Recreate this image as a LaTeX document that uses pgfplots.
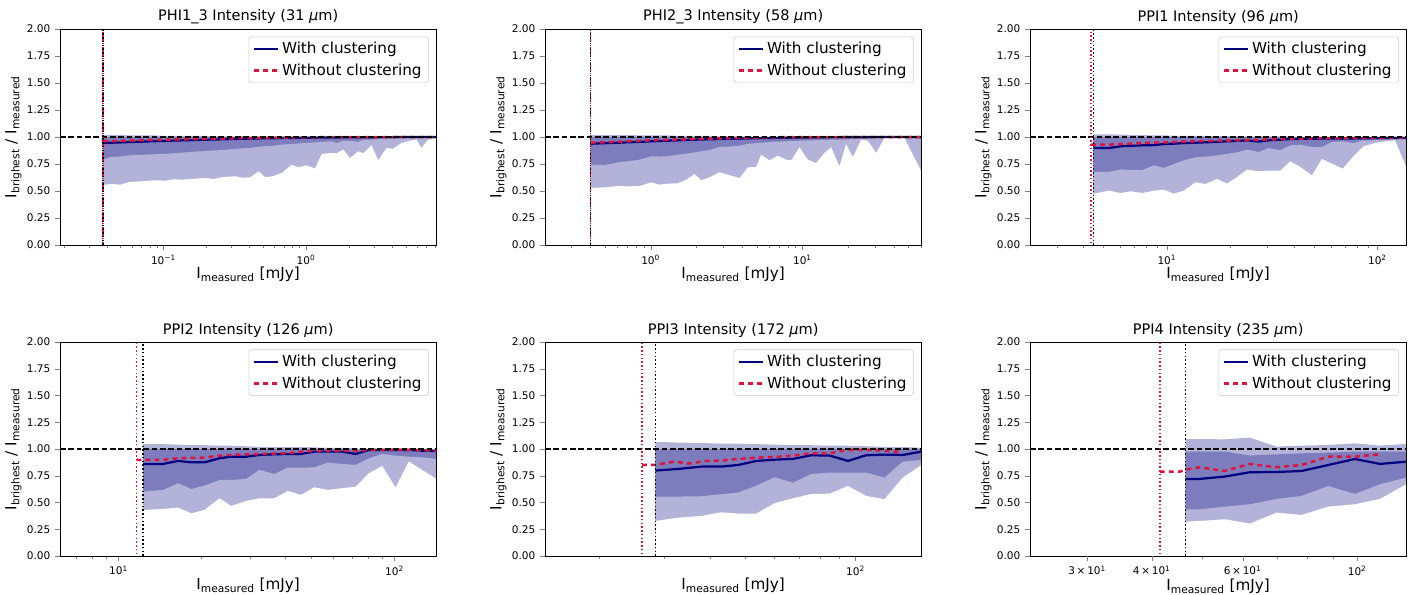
\documentclass[border=0pt]{standalone}
\usepackage{fontspec}
\setmainfont{DejaVu Sans}
\usepackage{pgfplots}
\usepackage{pgfplotstable}
\pgfplotsset{compat=1.18}
\definecolor{navy}{RGB}{0,0,128}
\definecolor{crim}{RGB}{220,20,60}
\definecolor{legedge}{RGB}{204,204,204}
\definecolor{bandlight}{RGB}{179,179,217}
\definecolor{banddark}{RGB}{125,125,190}

% ---------------- data ----------------
\pgfplotstableread{
x lo2 lo1 med hi1 hi2 nc
0.0376 0.556 0.790 0.945 1.0 1.020 0.960
0.0426 0.565 0.815 0.947 1.0 1.020 0.962
0.0500 0.559 0.820 0.950 1.0 1.020 0.964
0.0572 0.583 0.830 0.953 1.0 1.015 0.966
0.0709 0.590 0.835 0.957 1.0 1.015 0.969
0.0856 0.599 0.840 0.961 1.0 1.015 0.972
0.1033 0.596 0.845 0.964 1.0 1.010 0.975
0.1181 0.608 0.850 0.967 1.0 1.010 0.977
0.1351 0.605 0.855 0.969 1.0 1.010 0.979
0.1674 0.614 0.865 0.972 1.0 1.010 0.980
0.1967 0.620 0.870 0.975 1.0 1.010 0.982
0.2249 0.611 0.875 0.977 1.0 1.005 0.984
0.2641 0.630 0.880 0.979 1.0 1.005 0.986
0.3188 0.636 0.890 0.982 1.0 1.005 0.988
0.3549 0.623 0.895 0.984 1.0 1.005 0.989
0.4059 0.627 0.900 0.985 1.0 1.005 0.990
0.4642 0.682 0.910 0.987 1.0 1.005 0.991
0.5168 0.627 0.915 0.988 1.0 1.000 0.992
0.5909 0.639 0.920 0.989 1.0 1.000 0.993
0.6760 0.667 0.930 0.990 1.0 1.000 0.994
0.7940 0.744 0.935 0.991 1.0 1.000 0.995
0.8839 0.719 0.940 0.992 1.0 1.000 0.996
1.011 0.738 0.945 0.993 1.0 1.000 0.997
1.156 0.707 0.950 0.994 1.0 1.000 0.997
1.287 0.843 0.955 0.995 1.0 1.000 0.998
1.511 0.852 0.960 0.996 1.0 1.000 0.998
1.639 0.849 0.945 0.996 1.0 1.000 0.998
1.824 0.883 0.965 0.997 1.0 1.000 0.999
2.031 0.806 0.965 0.997 1.0 1.000 0.999
2.323 0.867 0.955 0.998 1.0 1.000 0.999
2.518 0.849 0.975 0.998 1.0 1.000 1.000
2.879 0.923 0.975 0.998 1.0 1.000 1.000
3.205 0.784 0.980 0.999 1.0 1.000 1.000
3.666 0.898 0.985 0.999 1.0 1.000 1.000
4.080 0.892 0.985 0.999 1.0 1.000 1.000
4.667 0.944 0.990 1.000 1.0 1.000 1.000
5.338 0.966 0.990 1.000 1.0 1.000 1.000
5.941 0.975 0.990 1.000 1.0 1.000 1.000
6.441 0.898 0.995 1.000 1.0 1.000 1.000
7.171 0.975 0.995 1.000 1.0 1.000 1.000
8.201 0.991 0.995 1.000 1.0 1.000 1.000
}\tA

\pgfplotstableread{
x lo2 lo1 med hi1 hi2 nc
0.4030 0.528 0.744 0.938 1.0 1.020 0.947
0.4982 0.534 0.740 0.943 1.0 1.020 0.951
0.6097 0.546 0.765 0.947 1.0 1.020 0.956
0.7094 0.543 0.776 0.951 1.0 1.020 0.960
0.8464 0.546 0.790 0.955 1.0 1.015 0.964
1.010 0.580 0.821 0.960 1.0 1.015 0.969
1.146 0.559 0.819 0.963 1.0 1.015 0.971
1.300 0.568 0.822 0.966 1.0 1.015 0.973
1.512 0.571 0.836 0.969 1.0 1.010 0.976
1.674 0.596 0.844 0.972 1.0 1.010 0.978
1.948 0.657 0.857 0.975 1.0 1.010 0.981
2.154 0.599 0.868 0.977 1.0 1.010 0.983
2.445 0.627 0.880 0.979 1.0 1.010 0.985
2.844 0.673 0.907 0.981 1.0 1.005 0.988
3.228 0.651 0.911 0.983 1.0 1.005 0.989
3.851 0.620 0.920 0.985 1.0 1.005 0.991
4.369 0.719 0.937 0.987 1.0 1.005 0.993
4.958 0.722 0.943 0.989 1.0 1.000 0.995
5.347 0.836 0.946 0.990 1.0 1.000 0.996
6.066 0.784 0.953 0.991 1.0 1.000 0.997
6.883 0.827 0.957 0.992 1.0 1.000 0.998
7.809 0.790 0.960 0.993 1.0 1.000 0.999
8.424 0.784 0.962 0.994 1.0 1.000 1.000
9.557 0.904 0.966 0.995 1.0 1.000 1.000
10.84 0.790 0.968 0.996 1.0 1.000 1.000
12.30 0.759 0.970 0.997 1.0 1.000 1.000
13.96 0.852 0.973 0.998 1.0 1.000 1.000
15.44 0.904 0.975 0.999 1.0 1.000 1.000
17.51 0.728 0.976 0.999 1.0 1.000 1.000
19.38 0.935 0.978 1.000 1.0 1.000 1.000
21.44 0.812 0.980 1.000 1.0 1.000 1.000
24.32 0.975 0.983 1.000 1.0 1.000 1.000
26.90 0.966 0.985 1.000 1.0 1.000 1.000
30.52 0.852 0.988 1.000 1.0 1.000 1.000
34.63 0.990 0.995 1.000 1.0 1.000 1.000
40.27 0.990 0.995 1.000 1.0 1.000 1.000
46.90 0.990 0.995 1.000 1.0 1.000 1.000
60.67 0.682 0.990 1.000 1.0 1.000 1.000
}\tB

\pgfplotstableread{
x lo2 lo1 med hi1 hi2
4.476 0.475 0.676 0.898 1.0 1.025
5.311 0.503 0.676 0.898 1.0 1.025
6.031 0.481 0.700 0.914 1.0 1.022
6.727 0.497 0.695 0.918 1.0 1.020
7.641 0.481 0.694 0.923 1.0 1.018
8.678 0.503 0.738 0.925 1.0 1.015
9.676 0.512 0.713 0.935 1.0 1.015
10.79 0.475 0.750 0.938 1.0 1.012
12.04 0.503 0.784 0.944 1.0 1.010
13.67 0.580 0.812 0.947 1.0 1.010
15.25 0.565 0.818 0.951 1.0 1.010
17.32 0.611 0.830 0.955 1.0 1.008
19.32 0.568 0.843 0.960 1.0 1.008
21.54 0.630 0.858 0.964 1.0 1.005
24.03 0.698 0.883 0.969 1.0 1.005
27.29 0.682 0.861 0.958 1.0 1.005
30.44 0.688 0.898 0.969 1.0 1.005
34.57 0.688 0.877 0.975 1.0 1.005
38.56 0.775 0.923 0.981 1.0 1.005
43.00 0.722 0.929 0.983 1.0 1.000
48.84 0.645 0.907 0.984 1.0 1.000
54.47 0.796 0.907 0.985 1.0 1.000
60.75 0.753 0.954 0.985 1.0 1.000
68.50 0.707 0.960 0.986 1.0 1.000
76.94 0.821 0.944 0.987 1.0 1.000
85.82 0.914 0.969 0.988 1.0 1.000
97.47 0.944 0.970 0.990 1.0 1.000
108.7 0.960 0.975 0.990 1.0 1.000
121.2 0.969 0.978 0.990 1.0 1.000
137.2 0.719 0.981 0.990 1.0 1.000
}\tC
\pgfplotstableread{
x nc
4.364 0.929
5.311 0.929
6.031 0.935
6.727 0.938
7.641 0.944
8.678 0.946
9.676 0.950
10.79 0.953
12.04 0.958
13.67 0.960
15.25 0.962
17.32 0.965
19.32 0.967
21.54 0.969
24.03 0.971
27.29 0.974
30.44 0.977
34.57 0.980
38.56 0.982
43.00 0.985
48.84 0.987
54.47 0.990
60.75 0.990
68.50 0.990
76.94 0.992
85.82 0.993
97.47 0.993
108.7 0.993
121.2 0.995
137.2 0.995
}\nC

\pgfplotstableread{
x lo2 lo1 med hi1 hi2
12.27 0.430 0.601 0.860 1.0 1.047
14.50 0.439 0.617 0.860 1.0 1.045
16.42 0.452 0.679 0.888 1.0 1.040
18.34 0.399 0.626 0.875 1.0 1.035
20.50 0.430 0.657 0.875 1.0 1.035
23.22 0.539 0.710 0.913 1.0 1.030
25.59 0.467 0.710 0.928 1.0 1.030
28.98 0.514 0.720 0.928 1.0 1.025
32.37 0.539 0.804 0.944 1.0 1.020
36.67 0.539 0.766 0.950 1.0 1.020
40.98 0.607 0.825 0.953 1.0 1.020
45.78 0.570 0.825 0.953 1.0 1.020
51.15 0.642 0.828 0.975 1.0 1.015
57.14 0.617 0.872 0.975 1.0 1.010
64.72 0.633 0.860 0.975 1.0 1.010
72.32 0.648 0.850 0.953 0.995 1.005
80.79 0.773 0.913 0.991 0.995 1.000
90.26 0.841 0.953 0.991 0.995 1.000
100.8 0.639 0.937 0.991 0.995 1.000
112.6 0.882 0.928 0.991 0.995 1.000
125.9 0.804 0.922 0.984 0.990 1.000
141.8 0.720 0.907 0.981 0.990 1.000
}\tD
\pgfplotstableread{
x nc
11.61 0.897
12.27 0.897
14.50 0.897
16.42 0.913
18.34 0.916
20.50 0.919
23.22 0.937
25.59 0.944
28.98 0.950
32.37 0.953
36.67 0.956
40.98 0.959
45.78 0.975
51.15 0.981
57.14 0.981
64.72 0.981
72.32 0.984
80.79 0.991
90.26 0.991
100.8 0.991
112.6 0.991
125.9 0.988
141.8 0.985
}\nD

\pgfplotstableread{
x lo2 lo1 med hi1 hi2
28.45 0.327 0.555 0.798 0.995 1.066
32.81 0.358 0.555 0.813 0.995 1.060
37.97 0.374 0.558 0.835 0.995 1.055
43.05 0.408 0.577 0.835 1.0 1.050
47.81 0.396 0.592 0.850 1.0 1.050
53.62 0.396 0.657 0.888 1.0 1.045
60.15 0.493 0.735 0.900 1.0 1.040
67.49 0.539 0.685 0.907 1.0 1.035
75.72 0.579 0.766 0.941 1.0 1.035
84.97 0.582 0.779 0.938 1.0 1.030
95.30 0.654 0.779 0.888 1.0 1.030
106.9 0.561 0.779 0.941 1.0 1.025
119.9 0.530 0.732 0.947 1.0 1.020
134.5 0.732 0.882 0.944 1.0 1.020
151.2 0.850 0.897 0.975 1.0 1.010
}\tE
\pgfplotstableread{
x nc
26.17 0.851
28.45 0.851
32.13 0.882
34.93 0.863
39.19 0.888
43.05 0.891
47.81 0.907
54.19 0.919
60.15 0.925
67.49 0.938
75.72 0.959
84.97 0.959
91.41 0.981
98.33 0.991
108.0 0.991
119.9 0.984
134.5 0.969
}\nE

\pgfplotstableread{
x lo2 lo1 med hi1 hi2
46.49 0.321 0.436 0.720 0.975 1.093
49.56 0.327 0.436 0.720 0.975 1.092
55.41 0.343 0.461 0.742 0.975 1.090
61.94 0.302 0.483 0.782 0.938 1.106
69.80 0.405 0.533 0.785 0.950 1.022
78.03 0.383 0.561 0.794 0.959 1.031
87.86 0.461 0.654 0.850 0.965 1.037
98.97 0.483 0.579 0.906 0.975 1.053
110.7 0.533 0.670 0.860 0.975 1.031
124.5 0.670 0.732 0.881 0.975 1.047
}\tF
\pgfplotstableread{
x nc
41.47 0.788
45.33 0.788
46.49 0.806
49.56 0.829
55.41 0.794
61.94 0.860
69.80 0.829
78.03 0.850
87.86 0.928
98.97 0.928
110.7 0.950
}\nF

\newcommand{\bands}[1]{%
  \addplot[fill=bandlight, draw=none, forget plot] table[x=x,y=hi2]{#1} \closedcycle;
  \addplot[fill=banddark, draw=none, forget plot] table[x=x,y=hi1]{#1} \closedcycle;
  \addplot[fill=bandlight, draw=none, forget plot] table[x=x,y=lo1]{#1} \closedcycle;
  \addplot[fill=white, draw=none, forget plot] table[x=x,y=lo2]{#1} \closedcycle;
}
\newcommand{\reflines}[4]{% xmin xmax xblack xred
  \addplot[forget plot, black, line width=1.1bp, dash pattern=on 4bp off 2bp] coordinates {(#1,1) (#2,1)};
  \addplot[forget plot, crim, line width=1.1bp, dash pattern=on 1.1bp off 1.6bp, dash phase=1.35bp] coordinates {(#4,0) (#4,2)};
  \addplot[forget plot, black, line width=1.1bp, dash pattern=on 1.1bp off 1.6bp] coordinates {(#3,0) (#3,2)};
}

\begin{document}
\begin{tikzpicture}
\path[use as bounding box] (0,0) rectangle (1021.7bp,428.4bp);

% ---- panel 1
\begin{axis}[xmode=log, scale only axis, width=271bp, height=155.5bp,
  at={(43.2bp,252bp)}, anchor=south west,
  ymin=0, ymax=2, ytick={0,0.25,0.5,0.75,1,1.25,1.5,1.75,2},
  yticklabel style={/pgf/number format/fixed, /pgf/number format/fixed zerofill, /pgf/number format/precision=2, /pgf/number format/assume math mode=true},
  tick label style={font=\fontsize{7.6}{9}\selectfont},
  label style={font=\fontsize{11}{13}\selectfont},
  title style={font=\fontsize{10.5}{12}\selectfont, yshift=-6bp},
  xlabel={I\textsubscript{measured} [mJy]},
  ylabel={I\textsubscript{brighest} / I\textsubscript{measured}},
  xlabel shift=-5bp, ylabel shift=-3bp,
  tick align=outside, tick pos=left, major tick length=3.5bp, minor tick length=2bp,
  axis on top, axis line style={line width=0.6bp},
  legend style={at={(0.98,0.965)}, anchor=north east, draw=legedge, rounded corners=2bp, fill=white, font=\fontsize{11}{13}\selectfont, inner xsep=3bp, inner ysep=2bp, row sep=1.5bp, cells={anchor=west}},
  xmin=0.0188, xmax=8.201,
  title={PHI1\_3 Intensity (31 \textit{μ}m)},
  xtick={0.1,1}, xticklabels={10\textsuperscript{−1},10\textsuperscript{0}},
  minor xtick={0.02,0.03,0.04,0.05,0.06,0.07,0.08,0.09,0.2,0.3,0.4,0.5,0.6,0.7,0.8,0.9,2,3,4,5,6,7,8}]
  \bands{\tA}
  \addplot[navy, line width=1.6bp] table[x=x,y=med]{\tA};
  \addlegendentry{With clustering}
  \addplot[crim, line width=1.8bp, dash pattern=on 3.5bp off 3bp] table[x=x,y=nc]{\tA};
  \addlegendentry{Without clustering}
  \reflines{0.0188}{8.201}{0.0376}{0.0376}
\end{axis}

% ---- panel 2
\begin{axis}[xmode=log, scale only axis, width=271bp, height=155.5bp,
  at={(392.4bp,252bp)}, anchor=south west,
  ymin=0, ymax=2, ytick={0,0.25,0.5,0.75,1,1.25,1.5,1.75,2},
  yticklabel style={/pgf/number format/fixed, /pgf/number format/fixed zerofill, /pgf/number format/precision=2, /pgf/number format/assume math mode=true},
  tick label style={font=\fontsize{7.6}{9}\selectfont},
  label style={font=\fontsize{11}{13}\selectfont},
  title style={font=\fontsize{10.5}{12}\selectfont, yshift=-6bp},
  xlabel={I\textsubscript{measured} [mJy]},
  ylabel={I\textsubscript{brighest} / I\textsubscript{measured}},
  xlabel shift=-5bp, ylabel shift=-3bp,
  tick align=outside, tick pos=left, major tick length=3.5bp, minor tick length=2bp,
  axis on top, axis line style={line width=0.6bp},
  legend style={at={(0.98,0.965)}, anchor=north east, draw=legedge, rounded corners=2bp, fill=white, font=\fontsize{11}{13}\selectfont, inner xsep=3bp, inner ysep=2bp, row sep=1.5bp, cells={anchor=west}},
  xmin=0.2015, xmax=60.67,
  title={PHI2\_3 Intensity (58 \textit{μ}m)},
  xtick={1,10}, xticklabels={10\textsuperscript{0},10\textsuperscript{1}},
  minor xtick={0.3,0.4,0.5,0.6,0.7,0.8,0.9,2,3,4,5,6,7,8,9,20,30,40,50,60}]
  \bands{\tB}
  \addplot[navy, line width=1.6bp] table[x=x,y=med]{\tB};
  \addlegendentry{With clustering}
  \addplot[crim, line width=1.8bp, dash pattern=on 3.5bp off 3bp] table[x=x,y=nc]{\tB};
  \addlegendentry{Without clustering}
  \reflines{0.2015}{60.67}{0.403}{0.403}
\end{axis}

% ---- panel 3
\begin{axis}[xmode=log, scale only axis, width=271bp, height=155.5bp,
  at={(741.6bp,252bp)}, anchor=south west,
  ymin=0, ymax=2, ytick={0,0.25,0.5,0.75,1,1.25,1.5,1.75,2},
  yticklabel style={/pgf/number format/fixed, /pgf/number format/fixed zerofill, /pgf/number format/precision=2, /pgf/number format/assume math mode=true},
  tick label style={font=\fontsize{7.6}{9}\selectfont},
  label style={font=\fontsize{11}{13}\selectfont},
  title style={font=\fontsize{10.5}{12}\selectfont, yshift=-6bp},
  xlabel={I\textsubscript{measured} [mJy]},
  ylabel={I\textsubscript{brighest} / I\textsubscript{measured}},
  xlabel shift=-5bp, ylabel shift=-3bp,
  tick align=outside, tick pos=left, major tick length=3.5bp, minor tick length=2bp,
  axis on top, axis line style={line width=0.6bp},
  legend style={at={(0.98,0.965)}, anchor=north east, draw=legedge, rounded corners=2bp, fill=white, font=\fontsize{11}{13}\selectfont, inner xsep=3bp, inner ysep=2bp, row sep=1.5bp, cells={anchor=west}},
  xmin=2.238, xmax=137.2,
  title={PPI1 Intensity (96 \textit{μ}m)},
  xtick={10,100}, xticklabels={10\textsuperscript{1},10\textsuperscript{2}},
  minor xtick={3,4,5,6,7,8,9,20,30,40,50,60,70,80,90}]
  \bands{\tC}
  \addplot[navy, line width=1.6bp] table[x=x,y=med]{\tC};
  \addlegendentry{With clustering}
  \addplot[crim, line width=1.8bp, dash pattern=on 3.5bp off 3bp] table[x=x,y=nc]{\nC};
  \addlegendentry{Without clustering}
  \reflines{2.238}{137.2}{4.476}{4.364}
\end{axis}

% ---- panel 4
\begin{axis}[xmode=log, scale only axis, width=271bp, height=154.1bp,
  at={(43.2bp,28.1bp)}, anchor=south west,
  ymin=0, ymax=2, ytick={0,0.25,0.5,0.75,1,1.25,1.5,1.75,2},
  yticklabel style={/pgf/number format/fixed, /pgf/number format/fixed zerofill, /pgf/number format/precision=2, /pgf/number format/assume math mode=true},
  tick label style={font=\fontsize{7.6}{9}\selectfont},
  label style={font=\fontsize{11}{13}\selectfont},
  title style={font=\fontsize{10.5}{12}\selectfont, yshift=-6bp},
  xlabel={I\textsubscript{measured} [mJy]},
  ylabel={I\textsubscript{brighest} / I\textsubscript{measured}},
  xlabel shift=-5bp, ylabel shift=-3bp,
  tick align=outside, tick pos=left, major tick length=3.5bp, minor tick length=2bp,
  axis on top, axis line style={line width=0.6bp},
  legend style={at={(0.98,0.965)}, anchor=north east, draw=legedge, rounded corners=2bp, fill=white, font=\fontsize{11}{13}\selectfont, inner xsep=3bp, inner ysep=2bp, row sep=1.5bp, cells={anchor=west}},
  xmin=6.135, xmax=141.8,
  title={PPI2 Intensity (126 \textit{μ}m)},
  xtick={10,100}, xticklabels={10\textsuperscript{1},10\textsuperscript{2}},
  minor xtick={7,8,9,20,30,40,50,60,70,80,90}]
  \bands{\tD}
  \addplot[navy, line width=1.6bp] table[x=x,y=med]{\tD};
  \addlegendentry{With clustering}
  \addplot[crim, line width=1.8bp, dash pattern=on 3.5bp off 3bp] table[x=x,y=nc]{\nD};
  \addlegendentry{Without clustering}
  \reflines{6.135}{141.8}{12.27}{11.61}
\end{axis}

% ---- panel 5
\begin{axis}[xmode=log, scale only axis, width=271bp, height=154.1bp,
  at={(392.4bp,28.1bp)}, anchor=south west,
  ymin=0, ymax=2, ytick={0,0.25,0.5,0.75,1,1.25,1.5,1.75,2},
  yticklabel style={/pgf/number format/fixed, /pgf/number format/fixed zerofill, /pgf/number format/precision=2, /pgf/number format/assume math mode=true},
  tick label style={font=\fontsize{7.6}{9}\selectfont},
  label style={font=\fontsize{11}{13}\selectfont},
  title style={font=\fontsize{10.5}{12}\selectfont, yshift=-6bp},
  xlabel={I\textsubscript{measured} [mJy]},
  ylabel={I\textsubscript{brighest} / I\textsubscript{measured}},
  xlabel shift=-5bp, ylabel shift=-3bp,
  tick align=outside, tick pos=left, major tick length=3.5bp, minor tick length=2bp,
  axis on top, axis line style={line width=0.6bp},
  legend style={at={(0.98,0.965)}, anchor=north east, draw=legedge, rounded corners=2bp, fill=white, font=\fontsize{11}{13}\selectfont, inner xsep=3bp, inner ysep=2bp, row sep=1.5bp, cells={anchor=west}},
  xmin=14.22, xmax=151.2,
  title={PPI3 Intensity (172 \textit{μ}m)},
  xtick={100}, xticklabels={10\textsuperscript{2}},
  minor xtick={20,30,40,50,60,70,80,90}]
  \bands{\tE}
  \addplot[navy, line width=1.6bp] table[x=x,y=med]{\tE};
  \addlegendentry{With clustering}
  \addplot[crim, line width=1.8bp, dash pattern=on 3.5bp off 3bp] table[x=x,y=nc]{\nE};
  \addlegendentry{Without clustering}
  \reflines{14.22}{151.2}{28.45}{26.17}
\end{axis}

% ---- panel 6
\begin{axis}[xmode=log, scale only axis, width=271bp, height=154.1bp,
  at={(741.6bp,28.1bp)}, anchor=south west,
  ymin=0, ymax=2, ytick={0,0.25,0.5,0.75,1,1.25,1.5,1.75,2},
  yticklabel style={/pgf/number format/fixed, /pgf/number format/fixed zerofill, /pgf/number format/precision=2, /pgf/number format/assume math mode=true},
  tick label style={font=\fontsize{7.6}{9}\selectfont},
  label style={font=\fontsize{11}{13}\selectfont},
  title style={font=\fontsize{10.5}{12}\selectfont, yshift=-6bp},
  xlabel={I\textsubscript{measured} [mJy]},
  ylabel={I\textsubscript{brighest} / I\textsubscript{measured}},
  xlabel shift=-11bp, ylabel shift=-3bp,
  tick align=outside, tick pos=left, major tick length=3.5bp, minor tick length=2bp,
  axis on top, axis line style={line width=0.6bp},
  legend style={at={(0.98,0.965)}, anchor=north east, draw=legedge, rounded corners=2bp, fill=white, font=\fontsize{11}{13}\selectfont, inner xsep=3bp, inner ysep=2bp, row sep=1.5bp, cells={anchor=west}},
  xmin=23.25, xmax=124.5,
  title={PPI4 Intensity (235 \textit{μ}m)},
  xtick={100}, xticklabels={10\textsuperscript{2}},
  minor xtick={50,70,80,90},
  extra x ticks={30,40,60},
  extra x tick labels={3\,×\,10\textsuperscript{1},4\,×\,10\textsuperscript{1},6\,×\,10\textsuperscript{1}}]
  \bands{\tF}
  \addplot[navy, line width=1.6bp] table[x=x,y=med]{\tF};
  \addlegendentry{With clustering}
  \addplot[crim, line width=1.8bp, dash pattern=on 3.5bp off 3bp] table[x=x,y=nc]{\nF};
  \addlegendentry{Without clustering}
  \reflines{23.25}{124.5}{46.49}{41.47}
\end{axis}
\end{tikzpicture}
\end{document}
